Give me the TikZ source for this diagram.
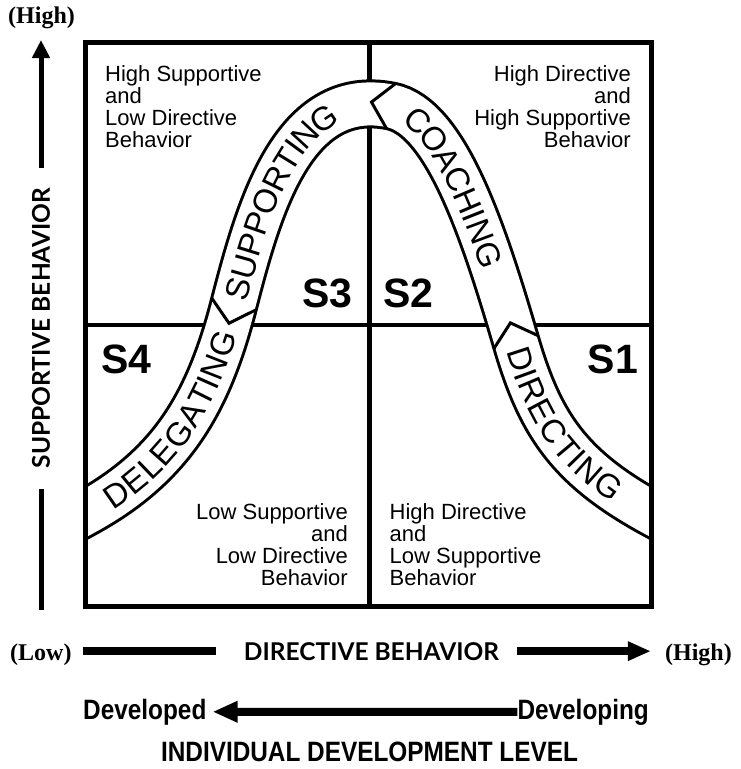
\documentclass[tikz,border=0pt]{standalone}
\usepackage{fontspec}
\setmainfont{Liberation Sans}
\newfontfamily\axisfont{Lato}
\newfontfamily\parenfont{Liberation Serif}
\newfontfamily\levelfont[FakeStretch=0.87]{Liberation Sans}
\usetikzlibrary{arrows.meta,decorations.text,decorations.markings}

\newcommand\quadfont{\fontsize{22}{22}\selectfont}
\newcommand\ribbonfont{\fontsize{33}{33}\selectfont}

\tikzset{
	frame/.style={line width=5.5pt},
	divider/.style={line width=4.5pt},
	ribbon/.style={line width=3pt, double=white, double distance=43pt},
	ribbon label/.style 2 args={decoration={text along path, text={|\ribbonfont|#1}, text align={left indent=#2}, raise=-11.8pt}, decorate},
	notch/.style={postaction={decorate, decoration={markings, mark=at position 0.1pt with {\draw[line width=3pt, line join=miter] (0pt,23pt) -- (-20pt,0pt) -- (0pt,-23pt);}}}},
	quadrant/.style={font=\quadfont, inner sep=0pt},
	stage/.style={font=\bfseries\fontsize{41}{41}\selectfont, inner sep=0pt},
	axis/.style={font=\axisfont\bfseries\fontsize{24.5}{24.5}\selectfont, inner sep=0pt},
	paren/.style={font=\parenfont\bfseries\fontsize{24}{24}\selectfont, inner sep=0pt},
	level/.style={font=\levelfont\bfseries\fontsize{28}{28}\selectfont, inner sep=0pt},
	thick bar/.style={line width=8pt},
	thin bar/.style={line width=5pt},
}

\begin{document}
\begin{tikzpicture}[x=1pt, y=-1pt]
	\useasboundingbox (0,0) rectangle (741,769);

	\draw[divider] (369.5,42.5) -- (369.5,606.5);
	\draw[divider] (85.5,325) -- (651.5,325);

	\coordinate (r0) at (63.6,525.1);
	\coordinate (p0) at (85.5,513);
	\coordinate (a1) at (173,465);
	\coordinate (a2) at (209,401);
	\coordinate (p1) at (234,304);
	\coordinate (b1) at (259,207.2);
	\coordinate (b2) at (293,86.4);
	\coordinate (p2) at (391,106);
	\coordinate (c1) at (444.9,116.8);
	\coordinate (c2) at (482.4,226.8);
	\coordinate (p3) at (516,342);
	\coordinate (d1) at (539.8,423.6);
	\coordinate (d2) at (568.3,467.2);
	\coordinate (p4) at (651.5,513);
	\coordinate (r4) at (673.4,525);

	\begin{scope}
		\clip (85.5,42.5) rectangle (651.5,606.5);
		\draw[ribbon] (r0) -- (p0) .. controls (a1) and (a2) .. (p1) .. controls (b1) and (b2) .. (p2) .. controls (c1) and (c2) .. (p3) .. controls (d1) and (d2) .. (p4) -- (r4);
	\end{scope}
	\path[notch] (p1) .. controls (b1) and (b2) .. (p2);
	\path[notch] (p2) .. controls (c1) and (c2) .. (p3);
	\path[notch] (p3) .. controls (d1) and (d2) .. (p4);

	\path[ribbon label={DELEGATING}{24pt}] (p0) .. controls (a1) and (a2) .. (p1);
	\path[ribbon label={SUPPORTING}{5pt}] (p1) .. controls (b1) and (b2) .. (p2);
	\path[ribbon label={COACHING}{19pt}] (p2) .. controls (c1) and (c2) .. (p3);
	\path[ribbon label={DIRECTING}{6pt}] (p3) .. controls (d1) and (d2) .. (p4);

	\draw (105,65.2) node[quadrant, anchor=north west, align=left] (hslo) {High Supportive\\and\\Low Directive\\Behavior};
	\draw (631,65.2) node[quadrant, anchor=north east, align=right] (hdhs) {High Directive\\and\\High Supportive\\Behavior};
	\draw (348,503.2) node[quadrant, anchor=north east, align=right] (lslo) {Low Supportive\\and\\Low Directive\\Behavior};
	\draw (389.5,503.2) node[quadrant, anchor=north west, align=left] (hdls) {High Directive\\and\\Low Supportive\\Behavior};

	\draw (352.5,307) node[stage, anchor=base east] (s3) {S3};
	\draw (383,307) node[stage, anchor=base west] (s2) {S2};
	\draw (101,373) node[stage, anchor=base west] (s4) {S4};
	\draw (638,373) node[stage, anchor=base east] (s1) {S1};

	\draw[frame] (85.5,42.5) rectangle (651.5,606.5);

	\coordinate (ytop) at (41,40);
	\coordinate (ybot) at (41,610);
	\draw (8,23) node[paren, anchor=base west] (yhigh) {(High)};
	\draw (41,328) node[axis, rotate=90, inner xsep=20pt] (ylab) {SUPPORTIVE BEHAVIOR};
	\draw[thin bar, -{Triangle[length=18pt, width=17pt]}] (ylab.east) -- (ytop);
	\draw[thin bar] (ylab.west) -- (ybot);

	\draw (10,660) node[paren, anchor=base west] (xlow) {(Low)};
	\draw (371.5,660) node[axis, anchor=base] (xlab) {DIRECTIVE BEHAVIOR};
	\draw (732,660) node[paren, anchor=base east] (xhigh) {(High)};
	\draw[thick bar, shorten <=11pt, shorten >=28pt] (xlab.west -| xlow.east) -- (xlab.west);
	\draw[thick bar, -{Triangle[length=23pt, width=18pt]}, shorten <=18pt, shorten >=14pt] (xlab.east) -- (xlab.east -| xhigh.west);

	\draw (83,719) node[level, anchor=base west] (done) {Developed};
	\draw (649,719) node[level, anchor=base east] (grow) {Developing};
	\draw[thick bar, -{Triangle[length=25pt, width=20pt]}, shorten >=6pt] (grow) -- (done);
	\draw (369.5,761) node[level, anchor=base] (idl) {INDIVIDUAL DEVELOPMENT LEVEL};
\end{tikzpicture}
\end{document}
